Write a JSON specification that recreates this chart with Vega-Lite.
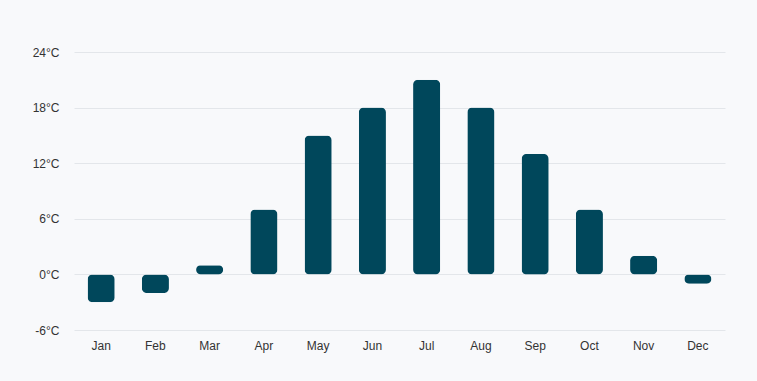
{
  "$schema": "https://vega.github.io/schema/vega-lite/v6.json",
  "width": 651,
  "height": 278,
  "autosize": {"type": "none"},
  "padding": {"left": 74, "top": 52, "right": 32, "bottom": 51},
  "background": "#f8f9fb",
  "config": {
    "view": {"stroke": null},
    "axis": {"labelFont": "Liberation Sans", "labelFontSize": 12, "labelColor": "#333333", "domain": false, "ticks": false}
  },
  "data": {
    "values": [
      {"month": "Jan", "temp": -3},
      {"month": "Feb", "temp": -2},
      {"month": "Mar", "temp": 1},
      {"month": "Apr", "temp": 7},
      {"month": "May", "temp": 15},
      {"month": "Jun", "temp": 18},
      {"month": "Jul", "temp": 21},
      {"month": "Aug", "temp": 18},
      {"month": "Sep", "temp": 13},
      {"month": "Oct", "temp": 7},
      {"month": "Nov", "temp": 2},
      {"month": "Dec", "temp": -1}
    ]
  },
  "mark": {"type": "bar", "color": "#00475b", "cornerRadius": 5},
  "encoding": {
    "x": {
      "field": "month", "type": "nominal", "sort": null, "title": null,
      "scale": {"paddingInner": 0.5, "paddingOuter": 0.25},
      "axis": {"labelAngle": 0, "labelPadding": 10, "grid": false}
    },
    "y": {
      "field": "temp", "type": "quantitative", "title": null,
      "scale": {"domain": [-6, 24], "nice": false},
      "axis": {"values": [-6, 0, 6, 12, 18, 24], "labelExpr": "datum.value + '°C'", "labelPadding": 15, "gridColor": "#e3e6ea", "gridWidth": 1}
    }
  }
}
